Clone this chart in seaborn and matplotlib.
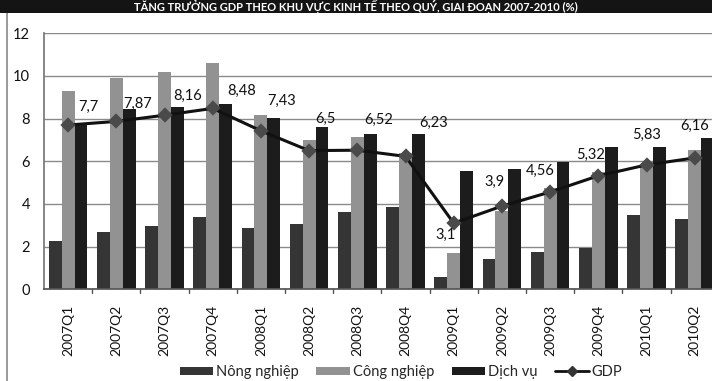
import numpy as np
import pandas as pd
import matplotlib
matplotlib.use("Agg")
import matplotlib.pyplot as plt
from matplotlib.patches import Rectangle, Patch
from matplotlib.lines import Line2D
import seaborn as sns

quarters = ["2007Q1", "2007Q2", "2007Q3", "2007Q4", "2008Q1", "2008Q2", "2008Q3",
            "2008Q4", "2009Q1", "2009Q2", "2009Q3", "2009Q4", "2010Q1", "2010Q2"]
nong_nghiep = [2.28, 2.67, 2.98, 3.40, 2.86, 3.06, 3.64, 3.87, 0.59, 1.42, 1.75, 1.95, 3.50, 3.31]
cong_nghiep = [9.30, 9.89, 10.17, 10.62, 8.16, 7.00, 7.12, 6.40, 1.69, 3.67, 4.73, 5.51, 5.87, 6.53]
dich_vu = [7.81, 8.44, 8.53, 8.69, 8.03, 7.61, 7.28, 7.27, 5.55, 5.63, 5.98, 6.67, 6.67, 7.08]
gdp = [7.7, 7.87, 8.16, 8.48, 7.43, 6.5, 6.52, 6.23, 3.1, 3.9, 4.56, 5.32, 5.83, 6.16]
sectors = ["Nông nghiệp", "Công nghiệp", "Dịch vụ"]
title = "TĂNG TRƯỞNG GDP THEO KHU VỰC KINH TẾ THEO QUÝ, GIAI ĐOẠN 2007-2010 (%)"

# label placement around each GDP point, in pixels
label_offsets = [(20, 18), (21, 18), (23, 19), (29, 18), (21, 30), (16, 32), (21, 30),
                 (28, 34), (-8, -12), (-7, 24), (-10, 21), (-8, 21), (0, 30), (0, 32)]

colors = {"Nông nghiệp": "#353535", "Công nghiệp": "#929292", "Dịch vụ": "#1c1c1c"}

sns.set_theme(style="white")
plt.rcParams["font.family"] = ["Lato", "DejaVu Sans"]

df = pd.DataFrame({
    "Quý": quarters * 3,
    "Ngành": sum([[s] * len(quarters) for s in sectors], []),
    "Tăng trưởng": nong_nghiep + cong_nghiep + dich_vu,
})

W, H = 712, 381
fig = plt.figure(figsize=(W / 100, H / 100), dpi=100)
fig.patch.set_facecolor("white")

left_px, zero_px, top_px, cat_w = 44, 289.3, 33.3, 48.2
ax = fig.add_axes([left_px / W, (H - zero_px) / H, 14 * cat_w / W, (zero_px - top_px) / H])

sns.barplot(data=df, x="Quý", y="Tăng trưởng", hue="Ngành", hue_order=sectors,
            palette=colors, width=0.8, gap=0, saturation=1, legend=False, ax=ax,
            linewidth=0)
sns.pointplot(x=quarters, y=gdp, color="#111111", markers="D", linestyles="-",
              ax=ax, linewidth=2.2, markersize=6)
for ln in ax.lines:
    ln.set_markerfacecolor("#4a4a4a")
    ln.set_markeredgecolor("#4a4a4a")

for i, v in enumerate(gdp):
    dx, dy = label_offsets[i]
    ax.annotate(f"{v:g}".replace(".", ","), (i, v), xytext=(dx, dy),
                textcoords="offset pixels", ha="center", va="center",
                fontsize=10.5, color="#111111")

ax.set_xlim(-0.5, 13.5)
ax.set_ylim(0, 12)
ax.set_yticks(range(0, 13, 2))
ax.set_axisbelow(True)
ax.yaxis.grid(True, color="#8a8a8a", linewidth=1.0)
ax.xaxis.grid(False)
ax.set_xlabel("")
ax.set_ylabel("")
ax.set_xticks(range(14))
ax.set_xticklabels(quarters, rotation=90, fontsize=10, color="#111111")
ax.tick_params(axis="y", labelsize=10.5, labelcolor="#111111", length=4,
               direction="inout", color="#555555", width=1, pad=8)
ax.tick_params(axis="x", length=0, pad=11)
# boundary ticks between quarters
for b in np.arange(0.5, 13.5, 1.0):
    ax.plot([b, b], [0, -0.15], color="#555555", lw=1, clip_on=False)
for s in ["top", "right"]:
    ax.spines[s].set_visible(False)
ax.spines["left"].set_color("#777777")
ax.spines["bottom"].set_color("#555555")

handles = [Patch(facecolor=colors[s], edgecolor="none") for s in sectors]
handles.append(Line2D([0], [0], color="#111111", lw=2, marker="D",
                      markersize=5, markerfacecolor="#333333", markeredgecolor="#333333"))
fig.legend(handles, sectors + ["GDP"], loc="center", bbox_to_anchor=(0.563, 0.024),
           ncol=4, frameon=False, fontsize=10.5, handlelength=2.3, handleheight=0.5,
           columnspacing=1.2, handletextpad=0.2, borderpad=0)

# dark title band
fig.patches.append(Rectangle((0, 1 - 13 / H), 1, 13 / H, transform=fig.transFigure,
                             facecolor="#141414", edgecolor="none", zorder=5))
fig.text(0.5, 1 - 6.5 / H, title, ha="center", va="center", color="white",
         fontsize=8, fontweight="bold", zorder=6)
fig.add_artist(Line2D([7 / W, 7 / W], [0, 1 - 13 / H], transform=fig.transFigure,
                      color="#888888", lw=1.2))

fig.savefig("out.png", dpi=100)
